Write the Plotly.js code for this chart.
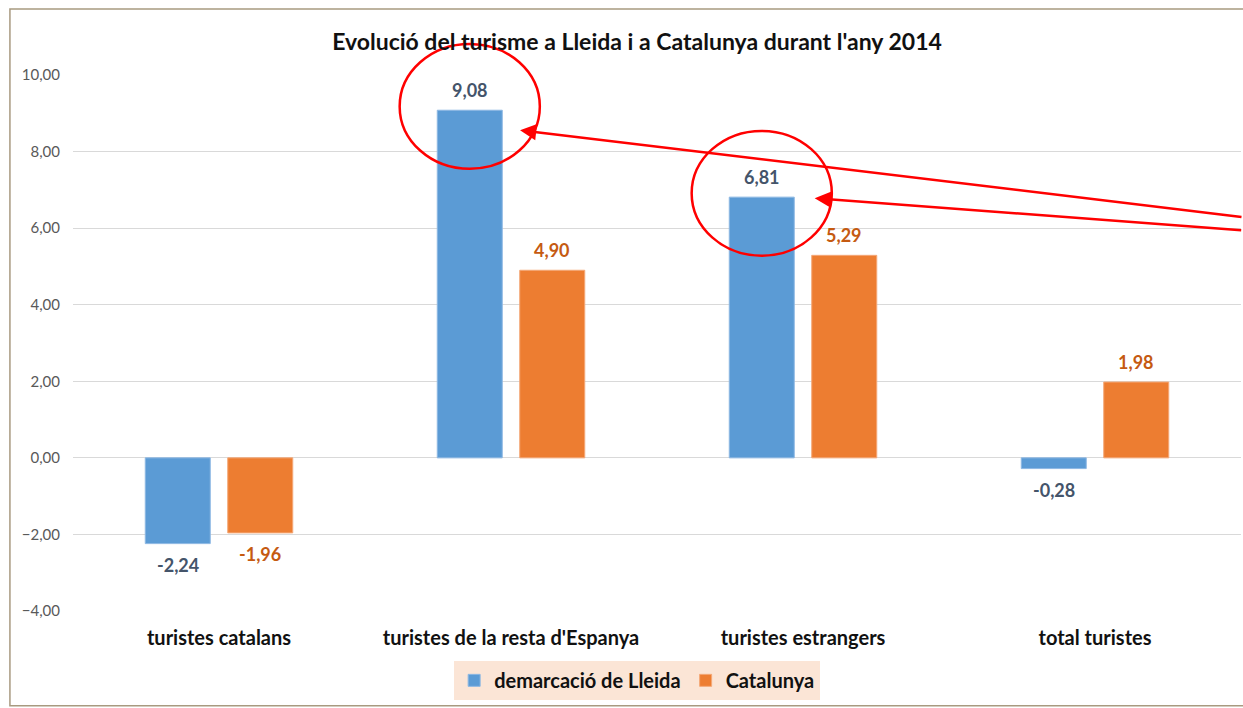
<!DOCTYPE html>
<html>
<head>
<meta charset="utf-8">
<script src="https://cdn.plot.ly/plotly-3.0.1.min.js"></script>
<style>html,body{margin:0;padding:0;background:#fff;}#chart{width:1243px;height:708px;}</style>
</head>
<body>
<div id="chart"></div>
<script>
const categories = ["turistes catalans", "turistes de la resta d'Espanya", "turistes estrangers", "total turistes"];
const lleida = [-2.24, 9.08, 6.81, -0.28];
const catalunya = [-1.96, 4.90, 5.29, 1.98];
const seriesNames = ["demarcació de Lleida", "Catalunya"];
const yTicks = [-4, -2, 0, 2, 4, 6, 8, 10];
const highlighted = [1, 2]; // category indices circled in red

const FONT = "Lato, 'Open Sans', sans-serif";
const Y0 = -4, Y1 = 10, NCAT = categories.length;
const barOffset = 0.1413; // half distance between grouped bar centers, in category units
const px = v => (v + 0.5) / NCAT;          // category index -> paper x
const py = v => (v - Y0) / (Y1 - Y0);      // data y -> paper y

const traces = [
  {type: 'bar', name: seriesNames[0], x: categories, y: lleida,
   marker: {color: '#5B9BD5', line: {color: '#8DB8E3', width: 1}}, hoverinfo: 'skip'},
  {type: 'bar', name: seriesNames[1], x: categories, y: catalunya,
   marker: {color: '#ED7D31', line: {color: '#F4A877', width: 1}}, hoverinfo: 'skip'}
];

const annotations = [];
[[lleida, -1, '#44546A'], [catalunya, 1, '#C55A11']].forEach(([vals, side, col]) => {
  vals.forEach((v, i) => {
    annotations.push({xref: 'x', yref: 'y', x: i + side * barOffset, y: v,
      text: v.toFixed(2).replace('.', ','), showarrow: false,
      yanchor: v >= 0 ? 'bottom' : 'top', yshift: v >= 0 ? 7 : -8,
      font: {family: FONT, size: 18, color: col, weight: 'bold'}});
  });
});

const shapes = [
  {type: 'rect', xref: 'paper', yref: 'paper', x0: -0.054, x1: 1.1, y0: -0.177, y1: 1.123,
   line: {color: '#A89A80', width: 1.5}, fillcolor: 'rgba(0,0,0,0)', layer: 'below'}
];
highlighted.forEach(ci => {
  const cx = ci - barOffset;
  const cy = lleida[ci] + 0.1;
  shapes.push({type: 'circle', xref: 'paper', yref: 'paper',
    x0: px(cx - 0.24), x1: px(cx + 0.24), y0: py(cy - 1.63), y1: py(cy + 1.63),
    line: {color: '#FF0000', width: 2.5}});
});
const arrows = [[1.031, 8.56, 723, 87], [2.04, 6.78, 428, 32]];
arrows.forEach(([x, y, ax, ay]) => {
  annotations.push({xref: 'x', yref: 'y', x: x, y: y, text: '', showarrow: true, axref: 'pixel', ayref: 'pixel',
    ax: ax, ay: ay, arrowcolor: '#FF0000', arrowwidth: 2.5, arrowhead: 2, arrowsize: 1.3});
});

const layout = {
  width: 1243, height: 708,
  margin: {l: 73, r: 2, t: 75, b: 97},
  paper_bgcolor: '#FFFFFF', plot_bgcolor: '#FFFFFF',
  separators: ',.',
  font: {family: FONT},
  title: {text: "Evolució del turisme a Lleida i a Catalunya durant l'any 2014",
    font: {family: FONT, size: 23, color: '#111111', weight: 'bold'},
    x: 637/1243, xref: 'container', xanchor: 'center', y: 1 - 42/708, yref: 'container', yanchor: 'middle'},
  barmode: 'group', bargap: 0.435, bargroupgap: 0.212,
  showlegend: true,
  legend: {orientation: 'h', x: 0.483, xanchor: 'center', y: -0.093, yanchor: 'top',
    bgcolor: '#FBE5D6', font: {family: FONT, size: 20, color: '#111111', weight: 'bold'},
    itemwidth: 30, tracegroupgap: 0},
  xaxis: {type: 'category', showgrid: false, zeroline: false, showline: false, ticks: '',
    tickfont: {family: FONT, size: 20, color: '#111111', weight: 'bold'}, ticklabelstandoff: 13,
    range: [-0.5, NCAT - 0.5], fixedrange: true},
  yaxis: {range: [Y0, Y1], tickvals: yTicks, tickformat: '.2f', showgrid: true, gridcolor: '#D9D9D9', gridwidth: 1,
    zeroline: true, zerolinecolor: '#D9D9D9', zerolinewidth: 1, showline: false, ticks: '',
    tickfont: {family: FONT, size: 15, color: '#595959'}, ticklabelstandoff: 12, fixedrange: true},
  shapes: shapes,
  annotations: annotations
};

Plotly.newPlot('chart', traces, layout, {displayModeBar: false, staticPlot: true});
</script>
</body>
</html>
